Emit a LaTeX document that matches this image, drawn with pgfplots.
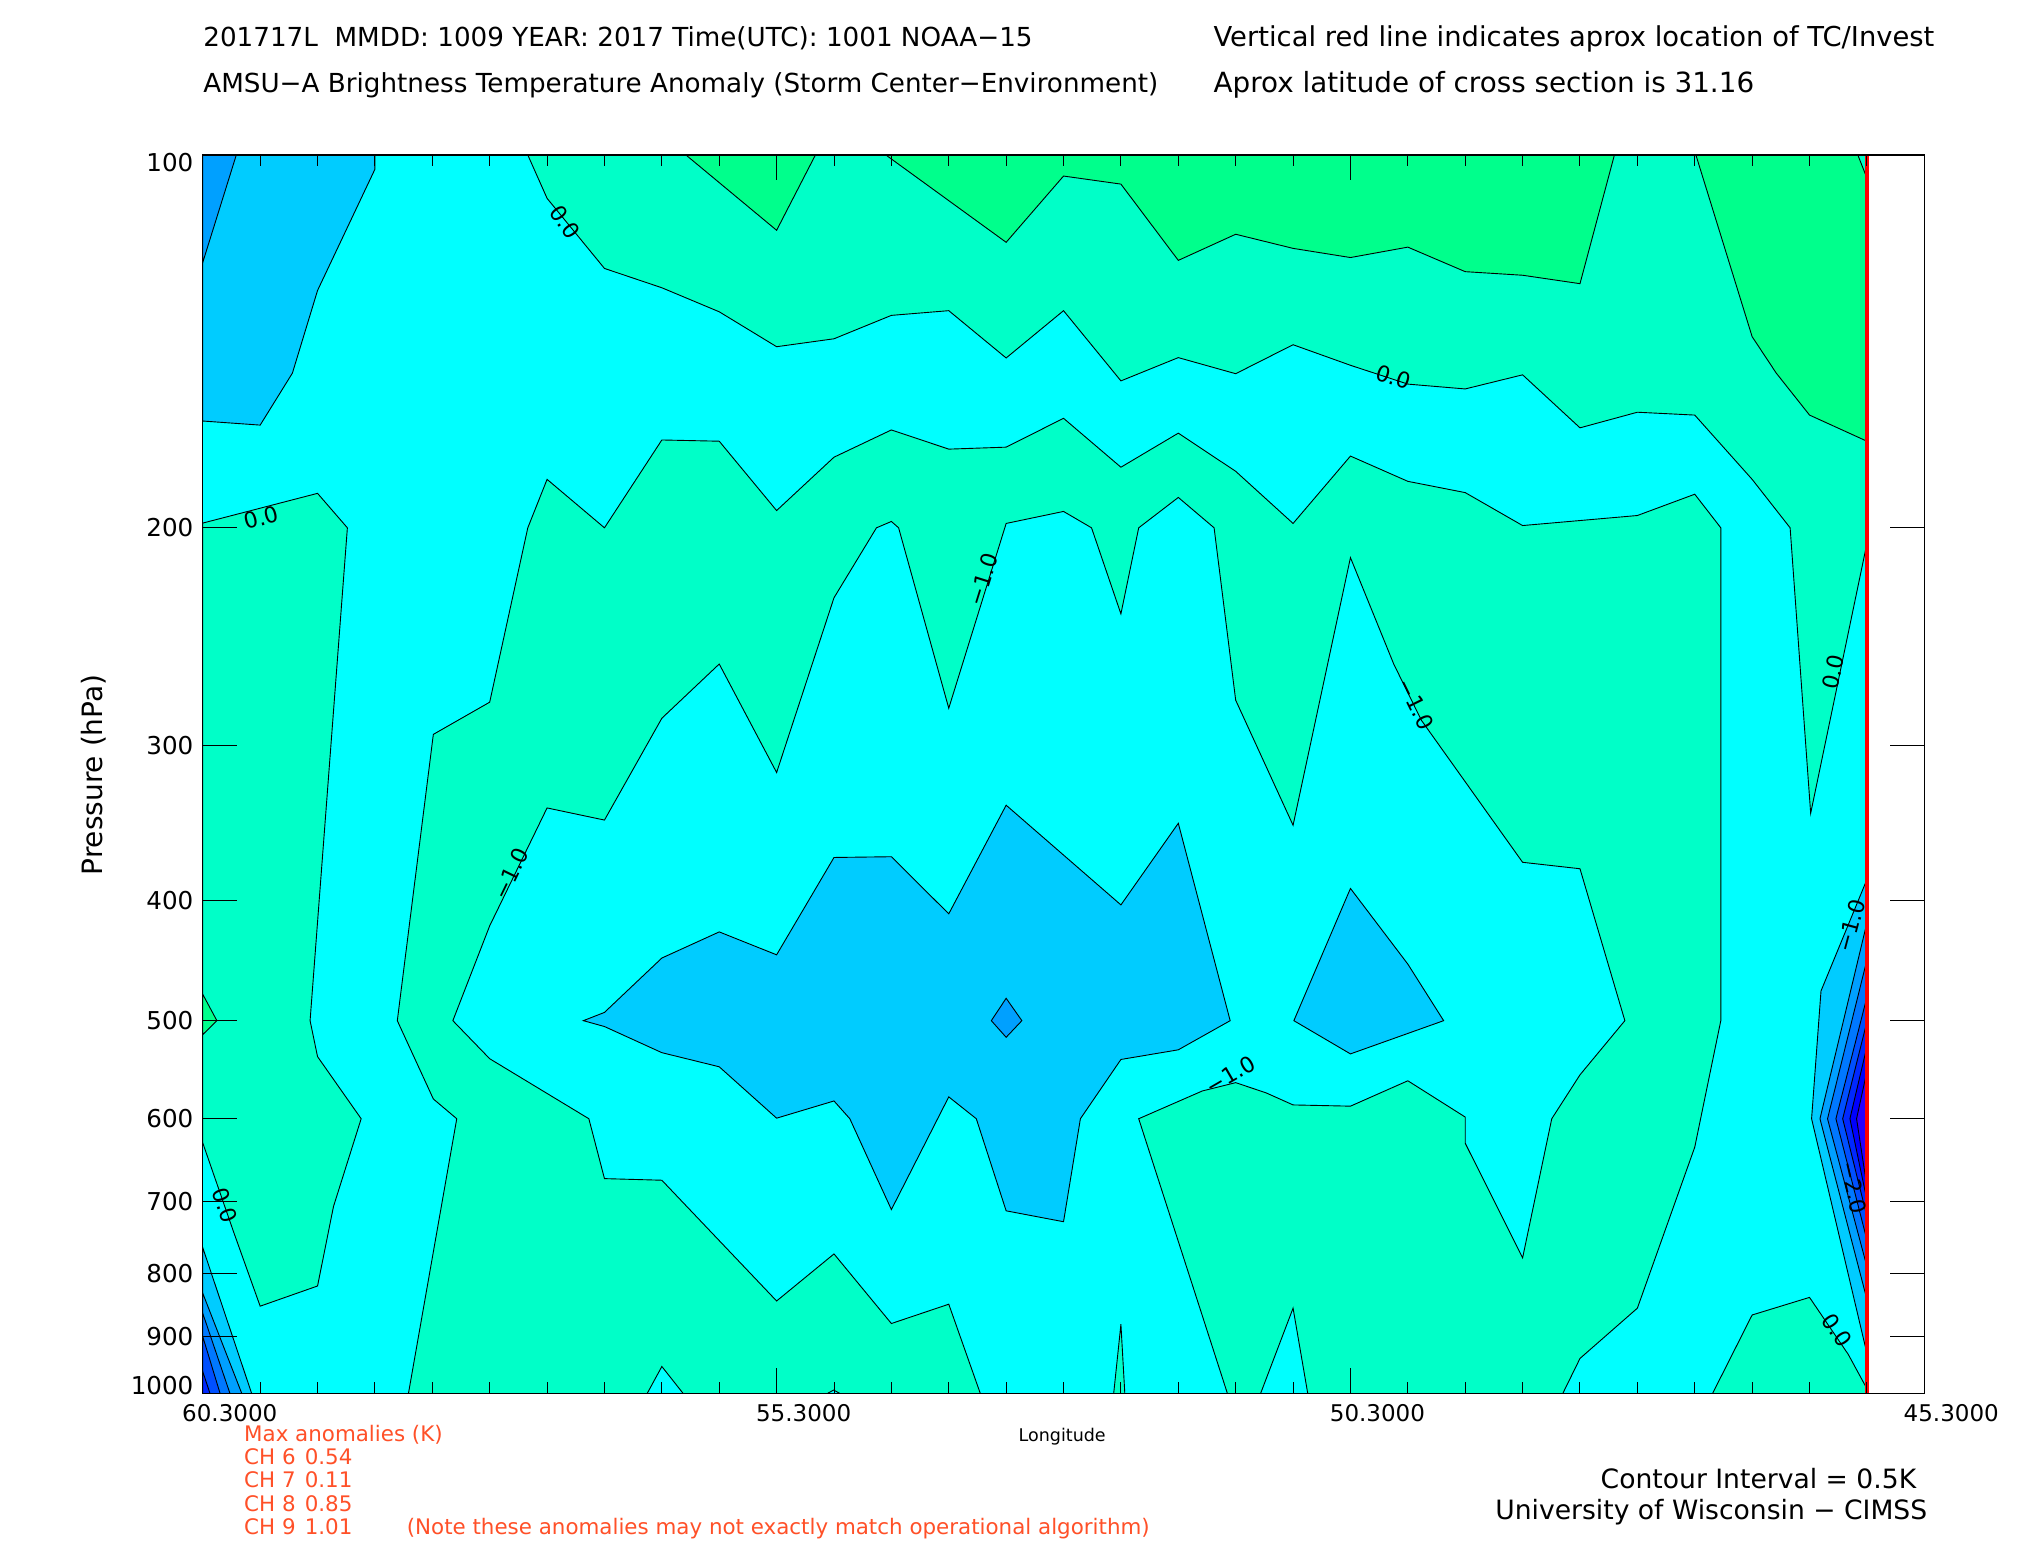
\documentclass[border=0pt]{standalone}
\usepackage{fontspec}
\setmainfont{DejaVu Sans}
\usepackage{pgfplots}
\pgfplotsset{compat=1.18}

\definecolor{cy}{RGB}{0,255,255}
\definecolor{aq}{RGB}{0,255,200}
\definecolor{gr}{RGB}{0,255,140}
\definecolor{bA}{RGB}{0,204,255}
\definecolor{bB}{RGB}{0,160,255}
\definecolor{bC}{RGB}{0,120,255}
\definecolor{bD}{RGB}{0,80,255}
\definecolor{bE}{RGB}{0,40,255}
\definecolor{bF}{RGB}{0,0,255}
\definecolor{bG}{RGB}{40,0,255}
\definecolor{anom}{RGB}{255,80,40}

\pgfplotsset{
  cfill/.style={draw=black, line width=0.45pt, fill=#1},
}
\newcommand{\lf}{\fontsize{11}{12}\selectfont}

\begin{document}
\begin{tikzpicture}
\useasboundingbox (0,0) rectangle (1012.5pt,775pt);
\begin{axis}[
  at={(101.4pt,78.25pt)}, anchor=south west,
  scale only axis, width=860.75pt, height=619.25pt,
  xmin=45.3, xmax=60.3, x dir=reverse,
  ymin=2, ymax=3, y dir=reverse,
  axis on top,
  xtick={60.3,55.3,50.3,45.3},
  xticklabels={60.3000,55.3000,50.3000,45.3000},
  ytick={2,2.30103,2.47712,2.60206,2.69897,2.77815,2.84510,2.90309,2.95424,3},
  yticklabels={\smash{\raisebox{-8.4pt}{100}},200,300,400,500,600,700,800,900,\smash{\raisebox{-0.6pt}{1000}}},
  major tick length=0pt, minor tick length=0pt,
  xtick pos=bottom, ytick pos=left,
  axis line style={line width=0.6pt},
  xticklabel style={font=\fontsize{11.5}{12}\selectfont, anchor=center, inner sep=0pt, yshift=-9.75pt, xshift=13.5pt},
  yticklabel style={font=\fontsize{12.3}{13}\selectfont, anchor=east, inner sep=0pt, xshift=-4.5pt},
]
% background
\addplot[fill=cy, draw=none] coordinates {(60.3,2) (45.8,2) (45.8,3) (60.3,3)} --cycle;

% upper aqua band
\addplot[cfill=aq] coordinates {(57.468,2) (45.8,2) (45.8,2.3137) (46.29,2.5315) (46.469,2.30103) (46.8,2.2619) (47.3,2.21) (47.8,2.2077) (48.3,2.2203) (48.8,2.1775) (49.3,2.1889) (49.8,2.185) (50.3,2.1698) (50.8,2.1532) (51.3,2.1766) (51.8,2.1636) (52.3,2.1824) (52.8,2.1257) (53.3,2.1639) (53.8,2.1257) (54.3,2.1295) (54.8,2.1484) (55.3,2.1548) (55.8,2.1266) (56.3,2.1072) (56.8,2.0916) (57.3,2.035)} --cycle;
\addplot[cfill=gr] coordinates {(56.09,2) (55.3,2.0608) (54.962,2)} --cycle;
\addplot[cfill=gr] coordinates {(54.348,2) (53.3,2.0705) (52.8,2.017) (52.3,2.0235) (51.8,2.0851) (51.3,2.064) (50.8,2.0754) (50.3,2.0828) (49.8,2.0744) (49.3,2.0942) (48.8,2.0971) (48.3,2.1039) (48.0,2)} --cycle;
\addplot[cfill=gr] coordinates {(47.29,2) (46.8,2.1467) (46.59,2.1761) (46.3,2.21) (45.8,2.2311) (45.8,2)} --cycle;
\addplot[cfill=aq] coordinates {(45.879,2) (45.8,2.0186) (45.8,2)} --cycle;

% top-left blues
\addplot[cfill=bA] coordinates {(60.3,2) (58.8,2) (58.8,2.0115) (59.3,2.1094) (59.519,2.1761) (59.8,2.2181) (60.3,2.2148)} --cycle;
\addplot[cfill=bB] coordinates {(60.3,2) (60.008,2) (60.3,2.0867)} --cycle;

% left aqua
\addplot[cfill=aq] coordinates {(60.3,2.2972) (59.3,2.2732) (59.04,2.30103) (59.365,2.69897) (59.3,2.728) (58.92,2.77815) (59.161,2.849) (59.3,2.9132) (59.8,2.9295) (60.032,2.8694) (60.3,2.7977)} --cycle;
\addplot[cfill=gr] coordinates {(60.3,2.6777) (60.177,2.69897) (60.3,2.7102)} --cycle;

% middle aqua (horseshoe)
\addplot[cfill=aq] coordinates {
 (58.508,3) (58.087,2.77815) (58.291,2.7622) (58.605,2.69897) (58.291,2.4678) (57.8,2.4418) (57.468,2.30103) (57.3,2.2619) (56.8,2.30103) (56.3,2.2301) (55.8,2.2311) (55.3,2.2871) (54.8,2.244) (54.3,2.222) (53.8,2.2375) (53.3,2.2359) (52.8,2.2126) (52.3,2.2521) (51.8,2.2246) (51.3,2.2554) (50.8,2.2975) (50.3,2.2431) (49.8,2.2635) (49.3,2.2726) (48.8,2.2992) (47.8,2.2911) (47.3,2.2739) (47.073,2.30103) (47.073,2.69897) (47.3,2.8011) (47.8,2.9311) (48.3,2.9717) (48.45,3)
 (50.672,3) (50.8,2.9311) (51.083,3)
 (51.372,3) (52.145,2.77815) (51.59,2.7557) (51.3,2.749) (51.034,2.7573) (50.8,2.767) (50.3,2.768) (49.8,2.7475) (49.3,2.7768) (49.3,2.7979) (48.8,2.8905) (48.546,2.77815) (48.3,2.7427) (47.909,2.69897) (48.3,2.5763) (48.8,2.5711) (49.682,2.4564) (49.923,2.411) (50.3,2.3251) (50.8,2.5412) (51.3,2.4402) (51.488,2.30103) (51.8,2.2765) (52.145,2.30103) (52.3,2.3705) (52.556,2.30103) (52.8,2.2878) (53.3,2.2975) (53.8,2.4467) (54.237,2.30103) (54.3,2.2959) (54.43,2.30103) (54.8,2.3575) (55.3,2.4986) (55.8,2.411) (56.3,2.4548) (56.8,2.537) (57.3,2.5272) (57.8,2.6224) (58.121,2.69897) (57.8,2.7297) (56.936,2.77815) (56.8,2.8265) (56.3,2.8278) (55.3,2.9253) (54.8,2.8873) (54.3,2.9435) (53.8,2.9279) (53.525,3)
 (54.748,3) (54.803,2.9972) (54.858,3)
 (56.114,3) (56.3,2.9782) (56.428,3)} --cycle;
\addplot[cfill=aq] coordinates {(52.363,3) (52.3,2.9441) (52.266,3)} --cycle;
\addplot[cfill=aq] coordinates {(47.145,3) (46.8,2.9366) (46.3,2.9224) (45.962,2.9685) (45.8,2.9961) (45.8,3)} --cycle;

% central blues
\addplot[cfill=bA] coordinates {(56.984,2.69897) (56.8,2.6923) (56.3,2.6484) (55.8,2.6273) (55.3,2.6458) (54.8,2.5672) (54.3,2.5666) (53.8,2.6127) (53.3,2.525) (52.3,2.6055) (51.8,2.5396) (51.348,2.69897) (51.8,2.7225) (52.3,2.7303) (52.653,2.77815) (52.8,2.8613) (53.3,2.8525) (53.56,2.77815) (53.8,2.7605) (54.3,2.8515) (54.662,2.77815) (54.8,2.7638) (55.3,2.7777) (55.8,2.7362) (56.3,2.7248) (56.8,2.7037)} --cycle;
\addplot[cfill=bB] coordinates {(53.429,2.69897) (53.3,2.6809) (53.163,2.69897) (53.3,2.7124)} --cycle;
\addplot[cfill=bA] coordinates {(50.793,2.69897) (50.3,2.5922) (49.8,2.6533) (49.488,2.69897) (50.3,2.7258)} --cycle;

% bottom-left blues
\addplot[cfill=bA] coordinates {(60.3,2.8823) (59.874,3) (60.3,3)} --cycle;
\addplot[cfill=bB] coordinates {(60.3,2.9191) (59.96,3) (60.3,3)} --cycle;
\addplot[cfill=bC] coordinates {(60.3,2.9353) (60.063,3) (60.3,3)} --cycle;
\addplot[cfill=bD] coordinates {(60.3,2.9541) (60.149,3) (60.3,3)} --cycle;
\addplot[cfill=bE] coordinates {(60.3,2.9823) (60.237,3) (60.3,3)} --cycle;

% right-edge blues
\addplot[cfill=bA] coordinates {(45.8,2.585) (46.2,2.675) (46.282,2.77815) (45.8,2.9676)} --cycle;
\addplot[cfill=bB] coordinates {(45.8,2.62) (46.209,2.77815) (45.8,2.924)} --cycle;
\addplot[cfill=bC] coordinates {(45.8,2.65) (46.143,2.77815) (45.8,2.8975)} --cycle;
\addplot[cfill=bD] coordinates {(45.8,2.68) (46.07,2.77815) (45.8,2.876)} --cycle;
\addplot[cfill=bE] coordinates {(45.8,2.70) (46.011,2.77815) (45.8,2.857)} --cycle;
\addplot[cfill=bF] coordinates {(45.8,2.72) (45.948,2.77815) (45.8,2.8438)} --cycle;
\addplot[cfill=bG] coordinates {(45.8,2.74) (45.89,2.77815) (45.8,2.833)} --cycle;

% storm position
\addplot[red, line width=1.65pt] coordinates {(45.8,2) (45.8,3)};

% ticks
\pgfplotsinvokeforeach{59.8,59.3,58.8,58.3,57.8,57.3,56.8,56.3,55.8,54.8,54.3,53.8,53.3,52.8,52.3,51.8,51.3,50.8,49.8,49.3,48.8,48.3,47.8,47.3,46.8,46.3,45.8}{
  \draw[line width=0.5pt] (axis cs:#1,2) -- ++(0pt,-5.6pt);
  \draw[line width=0.5pt] (axis cs:#1,3) -- ++(0pt,5.6pt);
}
\pgfplotsinvokeforeach{55.3,50.3}{
  \draw[line width=0.5pt] (axis cs:#1,2) -- ++(0pt,-12.7pt);
  \draw[line width=0.5pt] (axis cs:#1,3) -- ++(0pt,12.7pt);
}
\pgfplotsinvokeforeach{2.30103,2.47712,2.60206,2.69897,2.77815,2.84510,2.90309,2.95424}{
  \draw[line width=0.5pt] (axis cs:60.3,#1) -- ++(17pt,0pt);
  \draw[line width=0.5pt] (axis cs:45.3,#1) -- ++(-17pt,0pt);
}

% contour labels
\node[font=\lf, rotate=-55, inner sep=0pt] at (axis cs:57.144,2.0543) {0.0};
\node[font=\lf, rotate=15, inner sep=0pt] at (axis cs:59.79,2.2927) {0.0};
\node[font=\lf, rotate=-18, inner sep=0pt] at (axis cs:49.923,2.1792) {0.0};
\node[font=\lf, rotate=78, inner sep=0pt] at (axis cs:46.092,2.4175) {0.0};
\node[font=\lf, rotate=-56, inner sep=0pt] at (axis cs:46.058,2.949) {0.0};
\node[font=\lf, rotate=-70, inner sep=0pt] at (axis cs:60.105,2.8483) {0.0};
\node[font=\lf, rotate=64, inner sep=0pt] at (axis cs:57.613,2.5802) {−1.0};
\node[font=\lf, rotate=72.7, inner sep=0pt] at (axis cs:53.502,2.3429) {−1.0};
\node[font=\lf, rotate=-63.8, inner sep=0pt] at (axis cs:49.73,2.4434) {−1.0};
\node[font=\lf, rotate=30, inner sep=0pt] at (axis cs:51.348,2.7427) {−1.0};
\node[font=\lf, rotate=75, inner sep=0pt] at (axis cs:45.938,2.6224) {−1.0};
\node[font=\lf, rotate=-77, inner sep=0pt] at (axis cs:45.913,2.8336) {−2.0};
\end{axis}

% titles
\node[anchor=base west, inner sep=0pt, font=\fontsize{13.1}{14}\selectfont] at (101.5pt,751.75pt) {201717L\ \ MMDD: 1009 YEAR: 2017 Time(UTC): 1001 NOAA−15};
\node[anchor=base west, inner sep=0pt, font=\fontsize{13.7}{14}\selectfont] at (606.6pt,751.75pt) {Vertical red line indicates aprox location of TC/Invest};
\node[anchor=base west, inner sep=0pt, font=\fontsize{13.1}{14}\selectfont] at (101.5pt,728.5pt) {AMSU−A Brightness Temperature Anomaly (Storm Center−Environment)};
\node[anchor=base west, inner sep=0pt, font=\fontsize{13.9}{14}\selectfont] at (606.6pt,728.5pt) {Aprox latitude of cross section is 31.16};

% axis titles
\node[rotate=90, inner sep=0pt, font=\fontsize{14}{15}\selectfont] at (47.1pt,387.5pt) {Pressure (hPa)};
\node[inner sep=0pt, font=\fontsize{8.75}{10}\selectfont] at (531.1pt,56.65pt) {Longitude};

% maximum anomalies
\begin{scope}[every node/.style={anchor=base west, inner sep=0pt, text=anom, font=\fontsize{10.7}{12}\selectfont}]
\node at (121.9pt,54.3pt) {Max anomalies (K)};
\node at (121.9pt,42.55pt) {CH 6}; \node at (152.2pt,42.55pt) {0.54};
\node at (121.9pt,31.25pt) {CH 7}; \node at (152.2pt,31.25pt) {0.11};
\node at (121.9pt,19.25pt) {CH 8}; \node at (152.2pt,19.25pt) {0.85};
\node at (121.9pt,7.6pt) {CH 9}; \node at (152.2pt,7.6pt) {1.01};
\node at (203.2pt,7.6pt) {(Note these anomalies may not exactly match operational algorithm)};
\end{scope}

\node[anchor=base east, inner sep=0pt, font=\fontsize{13.3}{14}\selectfont] at (958.3pt,30.85pt) {Contour Interval = 0.5K};
\node[anchor=base east, inner sep=0pt, font=\fontsize{13.3}{14}\selectfont] at (963.8pt,15.35pt) {University of Wisconsin − CIMSS};
\end{tikzpicture}
\end{document}
